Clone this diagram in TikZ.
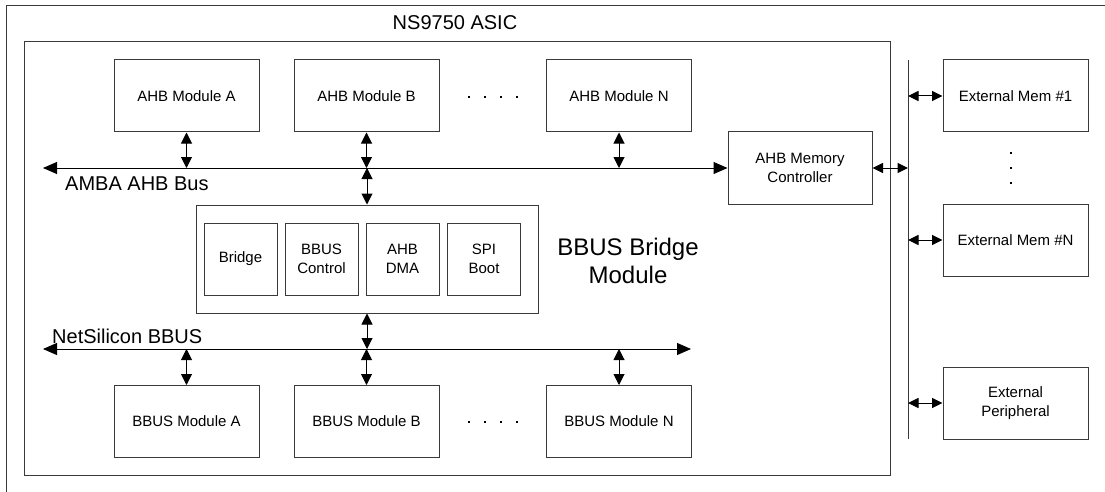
\documentclass[tikz,border=0pt]{standalone}
\usepackage{fontspec}
\setmainfont{Liberation Sans}
\usetikzlibrary{arrows.meta,positioning,calc}
\definecolor{frame}{HTML}{3A3A3A}
\tikzset{blk/.style={draw=frame,line width=1pt,minimum width=145pt,minimum height=72pt,inner sep=1pt,align=center,font=\fontsize{15}{18.5}\selectfont},
  subblk/.style={blk,minimum width=73pt},
  dbl/.style={line width=1pt,{Triangle[length=11pt,width=11pt]}-{Triangle[length=11pt,width=11pt]}},
  xdbl/.style={line width=1pt,{Triangle[length=10.5pt,width=10pt]}-{Triangle[length=10.5pt,width=10pt]}},
  bus/.style={line width=1pt,{Triangle[length=14pt,width=12pt]}-{Triangle[length=14pt,width=12pt]}},
  buslabel/.style={anchor=west,inner sep=0pt,font=\fontsize{20}{24}\selectfont}}
\newcommand{\dotsq}[2]{\fill (#1-1.4,#2-1.4) rectangle (#1+1.4,#2+1.4);}

\begin{document}
\begin{tikzpicture}[x=1pt,y=-1pt]
  \useasboundingbox (0,0) rectangle (1105,492);
  % frames
  \draw[frame,line width=1pt] (1105,6) -- (6,6) -- (6,492);
  \node[draw=frame,line width=1pt,minimum width=866pt,minimum height=433pt,inner sep=0pt] (asic) at (457,258.5) {};
  \node[inner sep=0pt,font=\fontsize{20}{24}\selectfont] (asiclbl) at (455,23) {NS9750 ASIC};
  % AHB side
  \foreach \n/\x/\t in {ahbA/186.5/A,ahbB/366.5/B,ahbN/619/N}
    \node[blk] (\n) at (\x,96) {AHB Module \t};
  \node[blk,minimum width=144pt] (memctl) at (800,168) {AHB Memory\\Controller};
  \coordinate (ahbL) at (43,168);
  \draw[bus] (ahbL) -- (memctl.west);
  \node[buslabel] (ahblbl) at (65,184) {AMBA AHB Bus};
  \foreach \n in {ahbA,ahbB,ahbN}
    \draw[dbl] (\n.south) -- (\n.south |- ahbL);
  \foreach \x in {469,485,501,517} {\dotsq{\x}{97}}
  % bridge module
  \node[draw=frame,line width=1pt,minimum width=342pt,minimum height=108pt,inner sep=0pt] (bridge) at (367,259) {};
  \foreach \n/\x/\t in {brg/240.5/Bridge,bctl/321.5/{BBUS\\Control},dma/402.5/{AHB\\DMA},spi/484/{SPI\\Boot}}
    \node[subblk] (\n) at (\x,259) {\t};
  \node[align=center,inner sep=0pt,font=\fontsize{24}{28}\selectfont] (bridgelbl) at (628,261) {BBUS Bridge\\Module};
  \draw[dbl] (bridge.north |- ahbL) -- (bridge.north);
  % BBUS side
  \coordinate (bbL) at (43,349);
  \coordinate (bbR) at (691,349);
  \draw[bus] (bbL) -- (bbR);
  \node[buslabel] (bblbl) at (52,336) {NetSilicon BBUS};
  \draw[dbl] (bridge.south) -- (bridge.south |- bbL);
  \foreach \n/\x/\t in {bbA/186.5/A,bbB/366.5/B,bbN/619/N} {
    \node[blk] (\n) at (\x,421.5) {BBUS Module \t};
    \draw[dbl] (\n.north |- bbL) -- (\n.north);
  }
  \foreach \x in {469,485,501,517} {\dotsq{\x}{422}}
  % external bus
  \coordinate (xtop) at (908,60);
  \coordinate (xbot) at (908,439);
  \draw[frame,line width=1pt] (xtop) -- (xbot);
  \draw[xdbl] (memctl.east) -- (memctl.east -| xtop);
  \foreach \n/\y/\t in {ext1/96/{External Mem \#1},extN/240/{External Mem \#N},extP/403/{External\\Peripheral}} {
    \node[blk] (\n) at (1015.5,\y) {\t};
    \draw[xdbl] (\n.west -| xtop) -- (\n.west);
  }
  \foreach \y in {153,168,183} {\dotsq{1011}{\y}}
\end{tikzpicture}
\end{document}
